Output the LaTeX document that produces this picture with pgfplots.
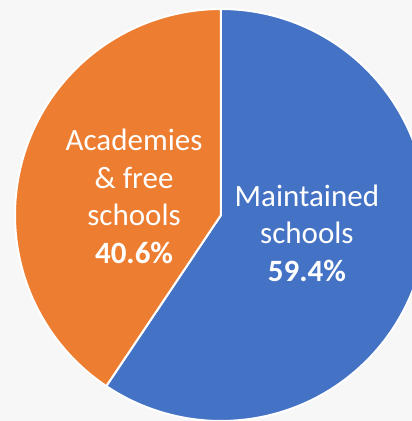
\documentclass[border=0pt]{standalone}
\usepackage{pgfplots}
\pgfplotsset{compat=1.18}
\usepackage{fontspec}
\setmainfont{Carlito}
\definecolor{mblue}{HTML}{4472C4}
\definecolor{morange}{HTML}{ED7D31}
\definecolor{bgcol}{HTML}{F7F7F7}
\begin{document}
\begin{tikzpicture}
\pgfmathsetmacro{\maint}{59.4}
\pgfmathsetmacro{\acad}{40.6}
\pgfmathsetmacro{\split}{90-3.6*\maint}
\begin{axis}[
  scale only axis, width=412pt, height=421pt,
  axis lines=none, ticks=none,
  xmin=-1.0728, xmax=0.9272, ymin=-1.0, ymax=1.0437,
  axis background/.style={fill=bgcol},
  clip=true,
]
\addplot[fill=mblue, draw=white, line width=2pt, line join=round, domain=\split:90, samples=150, variable=\t] ({cos(t)},{sin(t)}) -- (axis cs:0,0) -- cycle;
\addplot[fill=morange, draw=white, line width=2pt, line join=round, domain=90:{\split+360}, samples=120, variable=\t] ({cos(t)},{sin(t)}) -- (axis cs:0,0) -- cycle;
\node[text=white, align=center, font=\fontsize{31}{37.5}\selectfont] at (axis cs:0.417,-0.087) {Maintained\\schools\\\textbf{59.4\%}};
\node[text=white, align=center, font=\fontsize{31}{37.5}\selectfont] at (axis cs:-0.422,0.09) {Academies\\\&~free\\schools\\\textbf{40.6\%}};
\end{axis}
\end{tikzpicture}
\end{document}
